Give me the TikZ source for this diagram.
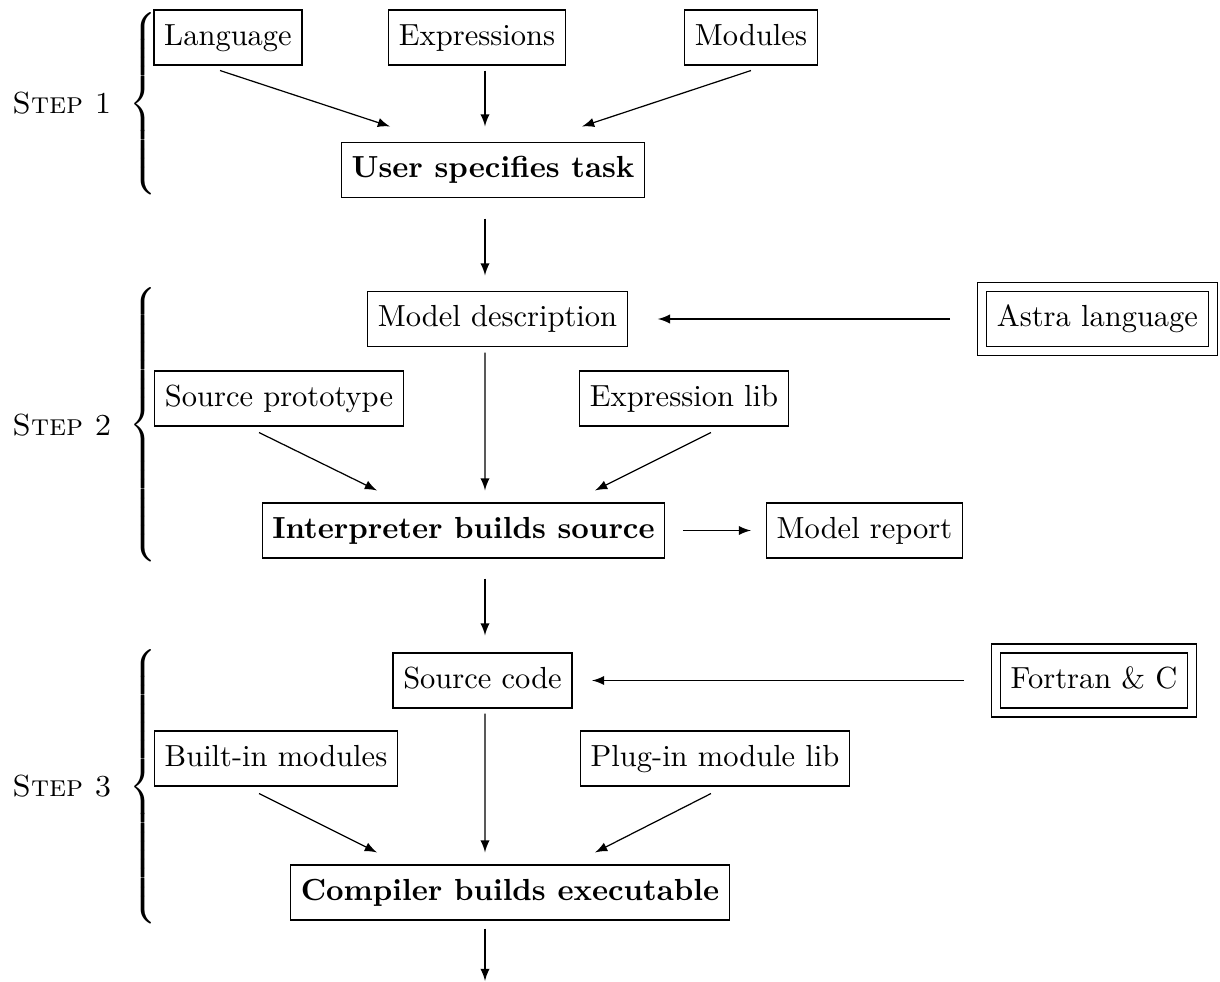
\documentclass[tikz,border=0pt]{standalone}
\usepackage{graphicx}
\usetikzlibrary{fit}
\tikzset{
  box/.style={draw, line width=0.4pt, inner xsep=3.33pt, inner ysep=4.55pt,
              text height=6.94pt, text depth=1.94pt},
  frame/.style={draw, line width=0.4pt, inner sep=2.8pt},
  arr/.style={-latex, line width=0.4pt},
  steplabel/.style={inner sep=0pt},
  bracenode/.style={inner sep=0pt, anchor=east},
}
% left curly brace stretched to a given total height, centred on its node
\newcommand{\stepbrace}[1]{\resizebox*{\width}{#1}{$\left\{\vcenter{\hbox{\rule{0pt}{#1}}}\right.$}}

\begin{document}
\begin{tikzpicture}[x=0.3279pt, y=-0.3279pt]
\useasboundingbox (0,0) rectangle (1220,982);

% ---- step 1 ----
\node[steplabel] (s1) at (62,103) {\textsc{Step 1}};
\node[bracenode] (b1) at (161,103.5) {\stepbrace{63.7pt}};
\node[box] (lang) at (228,37.5) {Language};
\node[box] (expr) at (477,37.5) {Expressions};
\node[box] (mods) at (751,37.5) {Modules};
\node[box] (user) at (493,170) {\textbf{User specifies task}};

% ---- step 2 ----
\node[steplabel] (s2) at (62,425) {\textsc{Step 2}};
\node[bracenode] (b2) at (161,425) {\stepbrace{91.3pt}};
\node[box] (model) at (497.5,319) {Model description};
\node[box] (astra) at (1097.5,319) {Astra language};
\node[frame, fit=(astra)] (astraf) {};
\node[box] (proto) at (279,398.5) {Source prototype};
\node[box] (exlib) at (684,398.5) {Expression lib};
\node[box] (interp) at (463.5,530.5) {\textbf{Interpreter builds source}};
\node[box] (report) at (864.5,530.5) {Model report};

% ---- step 3 ----
\node[steplabel] (s3) at (62,786) {\textsc{Step 3}};
\node[bracenode] (b3) at (161,786.5) {\stepbrace{91.6pt}};
\node[box] (src) at (482.5,680.5) {Source code};
\node[box] (fort) at (1094,680.5) {Fortran \& C};
\node[frame, fit=(fort)] (fortf) {};
\node[box] (builtin) at (276,758.5) {Built-in modules};
\node[box] (plugin) at (715,758.5) {Plug-in module lib};
\node[box] (comp) at (510,892.5) {\textbf{Compiler builds executable}};
\coordinate (out) at (485,981);

% ---- connectors ----
\draw[arr] ([shift={(-8,5)}]lang.south) -- ([shift={(-103,-15.5)}]user.north);
\draw[arr] ([shift={(8,5)}]expr.south) -- ([shift={(-8,-15.5)}]user.north);
\draw[arr] ([shift={(0,5)}]mods.south) -- ([shift={(89,-15.5)}]user.north);
\draw[arr] ([shift={(-8,20.5)}]user.south) -- ([shift={(-12.5,-15.5)}]model.north);

\draw[arr] ([shift={(-27,0)}]astraf.west) -- ([shift={(30,0)}]model.east);
\draw[arr] ([shift={(-20,6)}]proto.south) -- ([shift={(-86.5,-12)}]interp.north);
\draw[arr] ([shift={(-12.5,5.5)}]model.south) -- ([shift={(21.5,-12)}]interp.north);
\draw[arr] ([shift={(27,6)}]exlib.south) -- ([shift={(131.5,-12)}]interp.north);
\draw[arr] ([shift={(17.5,0)}]interp.east) -- ([shift={(-15,0)}]report.west);
\draw[arr] ([shift={(21.5,20)}]interp.south) -- ([shift={(2.5,-17)}]src.north);

\draw[arr] ([shift={(-27,0)}]fortf.west) -- ([shift={(19.5,0)}]src.east);
\draw[arr] ([shift={(-17,7)}]builtin.south) -- ([shift={(-133,-12)}]comp.north);
\draw[arr] ([shift={(2.5,5)}]src.south) -- ([shift={(-25,-12)}]comp.north);
\draw[arr] ([shift={(-4,7)}]plugin.south) -- ([shift={(85,-12)}]comp.north);
\draw[arr] ([shift={(-25,8)}]comp.south) -- (out);
\end{tikzpicture}
\end{document}
